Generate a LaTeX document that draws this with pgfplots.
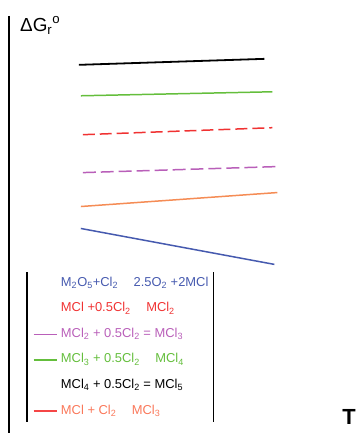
\documentclass[border=0pt]{standalone}
\usepackage{fontspec}
\setmainfont{Liberation Sans}
\usepackage{pgfplots}
\pgfplotsset{compat=1.18}
\definecolor{lblue}{RGB}{70,90,175}
\definecolor{lred}{RGB}{240,50,50}
\definecolor{lpurple}{RGB}{185,95,185}
\definecolor{lgreen}{RGB}{100,190,60}
\definecolor{lorange}{RGB}{245,140,85}
\definecolor{tsalmon}{RGB}{250,120,90}
\definecolor{sred}{RGB}{245,70,70}
\begin{document}
\begin{tikzpicture}
\begin{axis}[
  scale only axis, width=359bp, height=434bp,
  xmin=0, xmax=359, ymin=0, ymax=434,
  hide axis, clip=false,
  legend cell align=left,
  legend style={at={(axis cs:33,156)}, anchor=north west, draw=none, fill=none,
    inner sep=0pt, outer sep=0pt, row sep=13.6bp, column sep=0pt,
    font=\fontsize{13}{14}\selectfont,
    nodes={inner ysep=0pt, inner xsep=3.5bp, text height=9bp, text depth=3bp}},
  legend image code/.code={\draw[#1,line width=1.6bp] (0bp,0bp) -- (23bp,0bp);},
]
% reaction lines (pixel-derived coordinates, y = 434 - row)
\addplot[black, line width=1.8bp, forget plot] coordinates {(79,369) (265,375)};
\addplot[lgreen, line width=1.5bp, forget plot] coordinates {(81,338) (273,342)};
\addplot[lred, line width=1.5bp, dash pattern=on 12bp off 5bp, forget plot] coordinates {(83,299) (273,306)};
\addplot[lpurple, line width=1.5bp, dash pattern=on 13bp off 5bp, forget plot] coordinates {(83,261) (277,267)};
\addplot[lorange, line width=1.5bp, forget plot] coordinates {(81,227) (278,241)};
\addplot[lblue, line width=1.5bp, forget plot] coordinates {(81,205) (275,169)};
% legend
\addlegendimage{empty legend}
\addlegendentry{\textcolor{lblue}{M\textsubscript{2}O\textsubscript{5}+Cl\textsubscript{2}\hspace{1.2em}2.5O\textsubscript{2} +2MCl}}
\addlegendimage{empty legend}
\addlegendentry{\textcolor{lred}{MCl +0.5Cl\textsubscript{2}\hspace{1.2em}MCl\textsubscript{2}}}
\addlegendimage{lpurple}
\addlegendentry{\textcolor{lpurple}{MCl\textsubscript{2} + 0.5Cl\textsubscript{2} = MCl\textsubscript{3}}}
\addlegendimage{lgreen}
\addlegendentry{\textcolor{lgreen}{MCl\textsubscript{3} + 0.5Cl\textsubscript{2}\hspace{1.2em}MCl\textsubscript{4}}}
\addlegendimage{empty legend}
\addlegendentry{MCl\textsubscript{4} + 0.5Cl\textsubscript{2} = MCl\textsubscript{5}}
\addlegendimage{sred}
\addlegendentry{\textcolor{tsalmon}{MCl + Cl\textsubscript{2}\hspace{1.2em}MCl\textsubscript{3}}}
% axis line, legend borders, labels
\draw[black, line width=2bp] (axis cs:9.5,418) -- (axis cs:9.5,0);
\draw[black, line width=1.4bp] (axis cs:27,161) -- (axis cs:27,11);
\draw[black, line width=1.4bp] (axis cs:214,161) -- (axis cs:214,11);
\node[anchor=base west, inner sep=0pt, font=\fontsize{19}{20}\selectfont] at (axis cs:20,402) {ΔG\textsubscript{r}\raisebox{2bp}{\textsuperscript{o}}};
\node[anchor=base west, inner sep=0pt, font=\fontsize{22}{22}\selectfont\bfseries] at (axis cs:343,9) {T};
\path (rel axis cs:0,0) rectangle (rel axis cs:1,1);
\end{axis}
\end{tikzpicture}
\end{document}
